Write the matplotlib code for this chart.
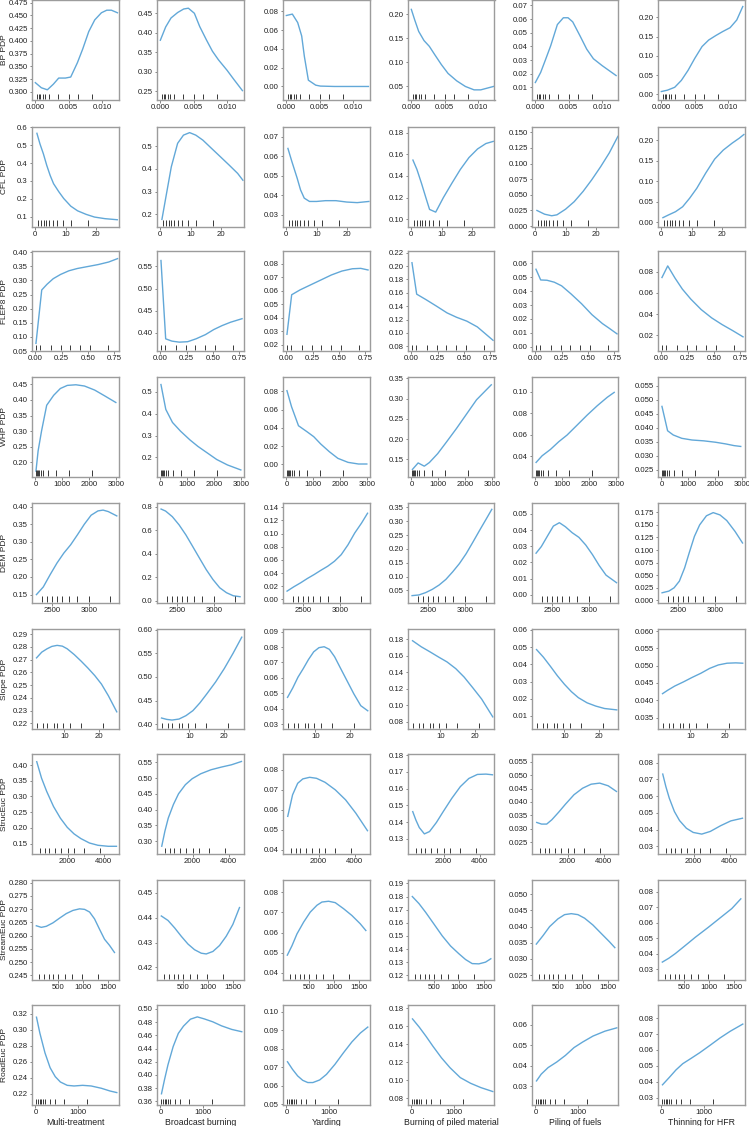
import matplotlib
matplotlib.use('Agg')
import matplotlib.pyplot as plt
from matplotlib.ticker import MultipleLocator, FormatStrFormatter, FixedLocator

plt.rcParams['font.family'] = ['Liberation Sans', 'DejaVu Sans']

treatments = ['Multi-treatment', 'Broadcast burning', 'Yarding',
              'Burning of piled material', 'Piling of fuels', 'Thinning for HFR']

# ---- BP ----
bp_x = [[0, 0.0009, 0.0018, 0.0027, 0.0035, 0.0045, 0.0053, 0.0063, 0.0071, 0.008, 0.0089, 0.0099, 0.0107, 0.0114, 0.0123],
        [0, 0.0008, 0.0016, 0.0026, 0.0035, 0.0042, 0.0051, 0.0059, 0.0069, 0.0078, 0.0087, 0.010, 0.011, 0.0123],
        [0, 0.0009, 0.0017, 0.0023, 0.0027, 0.0033, 0.0044, 0.0051, 0.0072, 0.0123],
        [0, 0.0005, 0.0011, 0.0019, 0.0027, 0.0035, 0.0045, 0.0055, 0.0068, 0.0081, 0.0094, 0.0104, 0.0123],
        [0, 0.0008, 0.0015, 0.0023, 0.0033, 0.0042, 0.0049, 0.0056, 0.0067, 0.0077, 0.0087, 0.010, 0.0121],
        [0, 0.0009, 0.002, 0.003, 0.004, 0.005, 0.0061, 0.0071, 0.0082, 0.0092, 0.0103, 0.0113, 0.0122]]
bp_y = [[0.318, 0.308, 0.304, 0.315, 0.327, 0.327, 0.329, 0.357, 0.384, 0.418, 0.441, 0.455, 0.460, 0.460, 0.455],
        [0.381, 0.415, 0.438, 0.452, 0.461, 0.463, 0.450, 0.416, 0.382, 0.353, 0.331, 0.304, 0.281, 0.252],
        [0.0755, 0.077, 0.068, 0.0537, 0.032, 0.0067, 0.0014, 0.0004, 0.0, 0.0],
        [0.2096, 0.188, 0.164, 0.145, 0.133, 0.116, 0.0953, 0.077, 0.0616, 0.05, 0.043, 0.043, 0.05],
        [0.0136, 0.021, 0.030, 0.0405, 0.056, 0.061, 0.061, 0.058, 0.0477, 0.038, 0.031, 0.026, 0.0187],
        [0.007, 0.0105, 0.018, 0.036, 0.062, 0.093, 0.124, 0.141, 0.153, 0.163, 0.173, 0.193, 0.228]]
bp_rug = [0.00026, 0.0005, 0.00077, 0.0011, 0.0015, 0.0021, 0.0034, 0.005, 0.0064, 0.0085]
bp_ylim = [(0.284, 0.48), (0.228, 0.484), (-0.0144, 0.092), (0.022, 0.229), (0.0008, 0.074), (-0.015, 0.245)]
bp_ystep = [0.025, 0.05, 0.02, 0.05, 0.01, 0.05]

# ---- CFL ----
cfl_x = [[0.7, 1.7, 2.8, 3.9, 5, 6.1, 7.8, 9.4, 11.7, 13.9, 16.7, 19.4, 22.8, 26.8],
         [0.7, 2, 3.75, 5.8, 7.7, 9.7, 11.7, 14, 16.8, 19.7, 22.5, 25.3, 27],
         [0.7, 2, 3.7, 4.8, 6, 7.7, 10, 12.9, 16.3, 19.8, 23.2, 27],
         [0.7, 2, 3.5, 5, 6.1, 8.1, 10.6, 13.3, 16.1, 18.9, 21.7, 24.4, 26.8],
         [0.7, 3.2, 5.5, 7.2, 10, 12.8, 15.7, 18.5, 21.4, 24.2, 27],
         [0.7, 2.5, 4.8, 7.1, 9.4, 11.7, 14.6, 17.5, 20.3, 23.2, 25.5, 27]]
cfl_y = [[0.567, 0.507, 0.452, 0.387, 0.331, 0.285, 0.24, 0.202, 0.159, 0.133, 0.113, 0.098, 0.089, 0.083],
         [0.178, 0.277, 0.409, 0.512, 0.548, 0.559, 0.548, 0.526, 0.49, 0.453, 0.417, 0.38, 0.35],
         [0.064, 0.0572, 0.0488, 0.0428, 0.0386, 0.0369, 0.0369, 0.0373, 0.0373, 0.0366, 0.0363, 0.0369],
         [0.1547, 0.146, 0.133, 0.119, 0.109, 0.1065, 0.12, 0.133, 0.146, 0.157, 0.165, 0.170, 0.172],
         [0.025, 0.019, 0.0165, 0.018, 0.027, 0.039, 0.0555, 0.074, 0.095, 0.117, 0.1435],
         [0.0114, 0.018, 0.026, 0.038, 0.059, 0.083, 0.12, 0.154, 0.176, 0.193, 0.205, 0.214]]
cfl_rug = [1.2, 2, 2.9, 3.8, 4.7, 5.8, 7.2, 9.1, 11.7, 17.2]
cfl_ylim = [(0.044, 0.604), (0.146, 0.585), (0.024, 0.0751), (0.093, 0.1856), (-0.001, 0.159), (-0.0106, 0.233)]
cfl_ystep = [0.1, 0.1, 0.01, 0.02, 0.025, 0.05]

# ---- FLEP8 ----
flep_x = [[0.005, 0.06, 0.11, 0.17, 0.24, 0.32, 0.40, 0.50, 0.60, 0.70, 0.785],
          [0.005, 0.05, 0.11, 0.18, 0.26, 0.34, 0.43, 0.51, 0.59, 0.67, 0.78],
          [0.005, 0.05, 0.13, 0.23, 0.33, 0.43, 0.53, 0.63, 0.71, 0.78],
          [0.005, 0.05, 0.14, 0.24, 0.34, 0.43, 0.53, 0.63, 0.69, 0.78],
          [0.005, 0.05, 0.11, 0.18, 0.25, 0.34, 0.44, 0.54, 0.64, 0.70, 0.78],
          [0.005, 0.06, 0.13, 0.2, 0.28, 0.38, 0.48, 0.58, 0.68, 0.78]]
flep_y = [[0.077, 0.266, 0.286, 0.306, 0.321, 0.334, 0.342, 0.349, 0.356, 0.365, 0.377],
          [0.5635, 0.3865, 0.3813, 0.379, 0.38, 0.3865, 0.396, 0.4075, 0.4165, 0.424, 0.432],
          [0.0277, 0.0571, 0.0607, 0.0644, 0.0681, 0.0718, 0.0747, 0.0764, 0.0767, 0.0755],
          [0.205, 0.158, 0.1497, 0.14, 0.13, 0.1235, 0.1176, 0.109, 0.101, 0.089],
          [0.0557, 0.048, 0.0478, 0.0464, 0.0438, 0.038, 0.031, 0.0231, 0.0167, 0.0136, 0.0093],
          [0.0744, 0.0853, 0.0738, 0.0635, 0.0542, 0.0443, 0.0365, 0.0302, 0.0246, 0.0187]]
flep_rug = [0.005, 0.04, 0.145, 0.24, 0.33, 0.425, 0.52, 0.69]
flep_ylim = [(0.05, 0.404), (0.359, 0.585), (0.0153, 0.0896), (0.073, 0.2225), (-0.003, 0.0688), (0.0054, 0.0993)]
flep_ystep = [0.05, 0.05, 0.01, 0.02, 0.01, 0.02]

# ---- WHP ----
whp_x = [[20, 100, 230, 420, 680, 930, 1190, 1510, 1830, 2210, 2590, 3000],
         [20, 200, 450, 750, 1100, 1400, 1750, 2100, 2500, 3000],
         [20, 190, 450, 770, 1020, 1280, 1600, 1920, 2300, 2690, 3000],
         [38, 250, 480, 670, 980, 1300, 1680, 2060, 2430, 2980],
         [25, 250, 560, 870, 1180, 1560, 1930, 2310, 2680, 2940],
         [20, 230, 440, 760, 1140, 1580, 2020, 2400, 2710, 2960]]
whp_y = [[0.171, 0.236, 0.301, 0.383, 0.415, 0.437, 0.447, 0.449, 0.445, 0.432, 0.413, 0.392],
         [0.534, 0.42, 0.36, 0.32, 0.28, 0.25, 0.22, 0.19, 0.165, 0.142],
         [0.0807, 0.0632, 0.0423, 0.0357, 0.0303, 0.0223, 0.0139, 0.0066, 0.0022, 0.0004, 0.0004],
         [0.125, 0.141, 0.133, 0.142, 0.164, 0.192, 0.226, 0.262, 0.297, 0.334],
         [0.0341, 0.0403, 0.0462, 0.0534, 0.0596, 0.069, 0.0782, 0.087, 0.0948, 0.0994],
         [0.0477, 0.039, 0.0375, 0.0363, 0.0357, 0.0354, 0.0349, 0.0343, 0.0337, 0.0334]]
whp_rug = [20, 50, 90, 140, 200, 300, 460, 770, 1250, 2100]
whp_ylim = [(0.153, 0.475), (0.111, 0.57), (-0.0135, 0.096), (0.107, 0.354), (0.0208, 0.114), (0.0226, 0.0583)]
whp_ystep = [0.05, 0.1, 0.02, 0.05, 0.02, 0.005]

# ---- DEM ----
dem_x = [[2295, 2386, 2477, 2568, 2659, 2750, 2840, 2932, 3022, 3113, 3181, 3250, 3363],
         [2290, 2350, 2440, 2530, 2620, 2710, 2800, 2890, 2980, 3070, 3160, 3250, 3340],
         [2290, 2380, 2470, 2560, 2650, 2740, 2830, 2920, 3010, 3100, 3190, 3280, 3360],
         [2290, 2380, 2470, 2560, 2650, 2740, 2830, 2920, 3010, 3100, 3190, 3280, 3350],
         [2290, 2360, 2450, 2520, 2600, 2680, 2770, 2860, 2950, 3040, 3130, 3220, 3360],
         [2290, 2380, 2450, 2520, 2590, 2650, 2720, 2790, 2880, 2970, 3060, 3150, 3260, 3360]]
dem_y = [[0.15, 0.1717, 0.2066, 0.2396, 0.2679, 0.2915, 0.3198, 0.35, 0.3755, 0.3877, 0.39, 0.3858, 0.3735],
         [0.78, 0.763, 0.715, 0.645, 0.56, 0.462, 0.363, 0.265, 0.18, 0.11, 0.068, 0.042, 0.034],
         [0.0126, 0.0192, 0.0252, 0.0318, 0.0378, 0.0443, 0.0504, 0.058, 0.068, 0.083, 0.101, 0.116, 0.131],
         [0.031, 0.0334, 0.0418, 0.0538, 0.0694, 0.0898, 0.117, 0.147, 0.183, 0.225, 0.268, 0.31, 0.343],
         [0.0257, 0.0298, 0.037, 0.0425, 0.0446, 0.0421, 0.0384, 0.0355, 0.0308, 0.0248, 0.018, 0.0121, 0.0074],
         [0.0151, 0.0184, 0.025, 0.0382, 0.0645, 0.094, 0.127, 0.150, 0.168, 0.1743, 0.1697, 0.1586, 0.137, 0.114]]
dem_rug = [2365, 2440, 2500, 2565, 2635, 2730, 2840, 2995, 3270]
dem_ylim = [(0.127, 0.411), (-0.017, 0.834), (-0.005, 0.147), (0.0054, 0.367), (-0.005, 0.057), (-0.0046, 0.194)]
dem_ystep = [0.05, 0.2, 0.02, 0.05, 0.01, 0.025]

# ---- Slope ----
slope_x = [[2, 3.5, 5, 6.4, 7.9, 9.4, 10.8, 12.8, 14.8, 16.7, 18.7, 20.6, 22.6, 25],
           [2, 3.5, 5, 7, 9, 11, 13, 15, 17.5, 20, 22.5, 25],
           [2, 3.5, 5, 6.5, 8, 9.5, 11, 12.5, 14, 15.5, 17, 19, 21, 23, 25],
           [2, 4.5, 7, 9.4, 11.9, 14.4, 16.8, 19.3, 21.8, 25],
           [2, 4, 6, 8, 10, 12, 14, 16.5, 19, 21.5, 25],
           [2, 3.5, 5.5, 8, 10.5, 13, 15.5, 18, 20.5, 23, 25]]
slope_y = [[0.2713, 0.2758, 0.2784, 0.2803, 0.2811, 0.2805, 0.2784, 0.2739, 0.2687, 0.2634, 0.2574, 0.2508, 0.2416, 0.229],
           [0.4129, 0.41, 0.4086, 0.4107, 0.4179, 0.4286, 0.445, 0.4643, 0.4893, 0.5179, 0.55, 0.5843],
           [0.0474, 0.0535, 0.0605, 0.066, 0.0719, 0.0769, 0.0796, 0.0802, 0.0785, 0.0737, 0.0671, 0.0584, 0.0497, 0.042, 0.0387],
           [0.178, 0.1707, 0.1646, 0.1585, 0.1524, 0.1443, 0.1341, 0.1211, 0.1077, 0.0861],
           [0.0486, 0.0441, 0.0388, 0.0333, 0.0284, 0.0241, 0.0206, 0.0176, 0.0157, 0.0143, 0.0135],
           [0.0419, 0.0429, 0.0441, 0.0453, 0.0466, 0.0478, 0.0492, 0.0502, 0.0507, 0.0508, 0.0507]]
slope_rug = [2.0, 3.9, 4.9, 6.9, 7.8, 9.7, 11.7, 14.8, 21.0]
slope_ylim = [(0.2153, 0.2937), (0.389, 0.601), (0.0267, 0.0915), (0.0711, 0.1918), (0.0022, 0.0604), (0.0316, 0.0605)]
slope_ystep = [0.01, 0.05, 0.01, 0.02, 0.01, 0.005]

# ---- StrucEuc ----
struc_x = [[300, 566, 849, 1226, 1604, 1981, 2358, 2736, 3208, 3679, 4245, 4700],
           [300, 472, 660, 943, 1226, 1604, 1981, 2453, 3019, 3585, 4151, 4700],
           [300, 566, 849, 1132, 1509, 1887, 2358, 2925, 3491, 4057, 4700],
           [300, 472, 660, 943, 1226, 1604, 1981, 2453, 2925, 3396, 3868, 4340, 4700],
           [300, 566, 849, 1132, 1509, 1887, 2358, 2830, 3302, 3774, 4245, 4700],
           [300, 472, 660, 943, 1226, 1604, 1981, 2453, 2925, 3491, 4057, 4700]]
struc_y = [[0.4105, 0.358, 0.316, 0.268, 0.231, 0.202, 0.181, 0.166, 0.152, 0.1447, 0.1415, 0.1415],
           [0.2837, 0.331, 0.373, 0.416, 0.45, 0.479, 0.498, 0.5137, 0.5264, 0.5348, 0.5422, 0.5527],
           [0.0567, 0.0675, 0.0733, 0.0755, 0.0763, 0.0758, 0.0738, 0.07, 0.065, 0.0583, 0.0495],
           [0.1462, 0.1412, 0.1367, 0.1329, 0.1343, 0.1397, 0.1462, 0.1541, 0.1611, 0.166, 0.1684, 0.1686, 0.1682],
           [0.0324, 0.0318, 0.0318, 0.0334, 0.0362, 0.0392, 0.0427, 0.0451, 0.0466, 0.047, 0.046, 0.0439],
           [0.0732, 0.0657, 0.0588, 0.0508, 0.0454, 0.0408, 0.0383, 0.0373, 0.0389, 0.0423, 0.0452, 0.0468]]
struc_rug = [470, 750, 1000, 1280, 1650, 2000, 2380, 2920, 3800]
struc_ylim = [(0.117, 0.435), (0.259, 0.5764), (0.0378, 0.088), (0.1209, 0.1806), (0.0207, 0.0578), (0.0254, 0.0852)]
struc_ystep = [0.05, 0.05, 0.01, 0.01, 0.005, 0.01]

# ---- StreamEuc ----
stream_x = [[69, 168, 268, 400, 533, 665, 798, 930, 1030, 1129, 1228, 1327, 1427, 1526, 1625],
            [69, 202, 334, 467, 599, 731, 864, 963, 1096, 1228, 1360, 1493, 1625],
            [69, 162, 261, 394, 526, 659, 758, 890, 1023, 1188, 1354, 1519, 1632],
            [69, 202, 334, 500, 665, 831, 996, 1129, 1261, 1394, 1526, 1632],
            [69, 202, 334, 500, 632, 765, 897, 1030, 1195, 1360, 1526, 1632],
            [69, 198, 327, 460, 592, 722, 983, 1241, 1453, 1632]]
stream_y = [[0.2637, 0.2631, 0.2635, 0.2648, 0.2666, 0.2683, 0.2695, 0.2701, 0.2699, 0.2689, 0.2663, 0.2624, 0.2586, 0.2563, 0.2536],
            [0.4407, 0.4389, 0.4359, 0.4325, 0.4294, 0.4271, 0.4257, 0.4254, 0.4264, 0.4288, 0.4325, 0.4373, 0.4441],
            [0.0487, 0.0534, 0.0593, 0.0652, 0.0702, 0.0736, 0.0752, 0.0756, 0.0749, 0.0719, 0.0685, 0.0644, 0.061],
            [0.18, 0.1746, 0.168, 0.159, 0.15, 0.1423, 0.1364, 0.132, 0.1289, 0.1287, 0.130, 0.1326],
            [0.0346, 0.0372, 0.040, 0.0424, 0.0437, 0.044, 0.0437, 0.0426, 0.0405, 0.0379, 0.0353, 0.0335],
            [0.0345, 0.037, 0.040, 0.0435, 0.047, 0.0505, 0.057, 0.0637, 0.0692, 0.0755]]
stream_rug = [120, 220, 320, 400, 500, 633, 787, 980, 1300]
stream_ylim = [(0.2432, 0.281), (0.4149, 0.4552), (0.0363, 0.0862), (0.1164, 0.1926), (0.0235, 0.0544), (0.0229, 0.0877)]
stream_ystep = [0.005, 0.01, 0.01, 0.01, 0.005, 0.01]

# ---- RoadEuc ----
road_x = [[25, 104, 224, 344, 464, 584, 744, 904, 1104, 1304, 1544, 1744, 1904],
          [25, 96, 177, 298, 419, 540, 702, 863, 1024, 1226, 1427, 1669, 1904],
          [25, 143, 262, 381, 500, 619, 778, 937, 1135, 1333, 1532, 1730, 1904],
          [25, 184, 344, 504, 704, 904, 1144, 1384, 1624, 1904],
          [25, 136, 298, 500, 702, 903, 1105, 1347, 1629, 1904],
          [25, 183, 342, 500, 698, 897, 1135, 1373, 1611, 1904]]
road_y = [[0.3159, 0.2959, 0.271, 0.2524, 0.2412, 0.2345, 0.2303, 0.2295, 0.2303, 0.2295, 0.2266, 0.2232, 0.2212],
          [0.3715, 0.393, 0.4155, 0.443, 0.463, 0.474, 0.4845, 0.488, 0.485, 0.4805, 0.4745, 0.469, 0.4655],
          [0.073, 0.0689, 0.0654, 0.063, 0.0618, 0.0618, 0.0632, 0.0662, 0.0716, 0.0778, 0.0837, 0.0885, 0.0917],
          [0.1682, 0.159, 0.1487, 0.1377, 0.1248, 0.1138, 0.1028, 0.0965, 0.0917, 0.0873],
          [0.0327, 0.036, 0.0392, 0.0419, 0.0451, 0.0489, 0.0516, 0.0545, 0.0569, 0.0585],
          [0.0381, 0.0427, 0.0475, 0.0514, 0.0548, 0.0583, 0.0629, 0.0676, 0.0718, 0.0763]]
road_rug = [25, 70, 105, 135, 170, 225, 330, 465, 680, 1210]
road_ylim = [(0.2056, 0.3312), (0.3545, 0.506), (0.0497, 0.1036), (0.0723, 0.1837), (0.021, 0.0696), (0.0254, 0.0883)]
road_ystep = [0.02, 0.02, 0.01, 0.02, 0.01, 0.01]

rows = [
    ('BP PDP', bp_x, bp_y, bp_rug, bp_ylim, bp_ystep, (-0.0005, 0.01246), [0, 0.005, 0.010], '%.3f'),
    ('CFL PDP', cfl_x, cfl_y, cfl_rug, cfl_ylim, cfl_ystep, (-0.9, 27.2), [0, 10, 20], '%d'),
    ('FLEP8 PDP', flep_x, flep_y, flep_rug, flep_ylim, flep_ystep, (-0.033, 0.794), [0, 0.25, 0.5, 0.75], '%.2f'),
    ('WHP PDP', whp_x, whp_y, whp_rug, whp_ylim, whp_ystep, (-128, 3100), [0, 1000, 2000, 3000], '%d'),
    ('DEM PDP', dem_x, dem_y, dem_rug, dem_ylim, dem_ystep, (2236, 3386), [2500, 3000], '%d'),
    ('Slope PDP', slope_x, slope_y, slope_rug, slope_ylim, slope_ystep, (0.7, 25.5), [10, 20], '%d'),
    ('StrucEuc PDP', struc_x, struc_y, struc_rug, struc_ylim, struc_ystep, (38, 4812), [2000, 4000], '%d'),
    ('StreamEuc PDP', stream_x, stream_y, stream_rug, stream_ylim, stream_ystep, (-17, 1705), [500, 1000, 1500], '%d'),
    ('RoadEuc PDP', road_x, road_y, road_rug, road_ylim, road_ystep, (-80, 1944), [0, 1000], '%d'),
]

W, H = 749, 1126
col_left = [32, 157, 283, 408, 532, 658]
row_top = [0, 126.7, 251, 376.7, 502.7, 629.3, 754, 880, 1005]
pw, ph = 86.5, 100
line_col = '#62a8d8'
frame_col = '#9c9c9c'

fig = plt.figure(figsize=(W / 100, H / 100), dpi=100)

for r, (ylab, xs, ys, rug, ylims, ysteps, xlim, xticks, xfmt) in enumerate(rows):
    for c in range(6):
        ax = fig.add_axes([col_left[c] / W, 1 - (row_top[r] + ph) / H, pw / W, ph / H])
        ax.plot(xs[c], ys[c], color=line_col, lw=1.0)
        ax.vlines(rug, 0.012, 0.065, transform=ax.get_xaxis_transform(),
                  color='#2b2b2b', lw=0.65)
        ax.set_xlim(*xlim)
        ax.set_ylim(*ylims[c])
        ax.xaxis.set_major_locator(FixedLocator(xticks))
        ax.xaxis.set_major_formatter(FormatStrFormatter(xfmt))
        step = ysteps[c]
        dec = len(repr(step).split('.')[1])
        ax.yaxis.set_major_locator(MultipleLocator(step))
        ax.yaxis.set_major_formatter(FormatStrFormatter('%.' + str(dec) + 'f'))
        ax.tick_params(labelsize=5.6, length=1.8, width=0.5, pad=1.2,
                       color='#555555', labelcolor='#222222')
        for s in ax.spines.values():
            s.set_color(frame_col)
            s.set_linewidth(1.0)
        if r == len(rows) - 1:
            ax.set_xlabel(treatments[c], fontsize=6.3, color='#222222', labelpad=1.0)
    yc = 1 - (row_top[r] + ph / 2) / H
    fig.text(5 / W, yc, ylab, rotation=90, ha='center', va='center',
             fontsize=6.0, color='#222222')

fig.savefig('out.png', dpi=100)
